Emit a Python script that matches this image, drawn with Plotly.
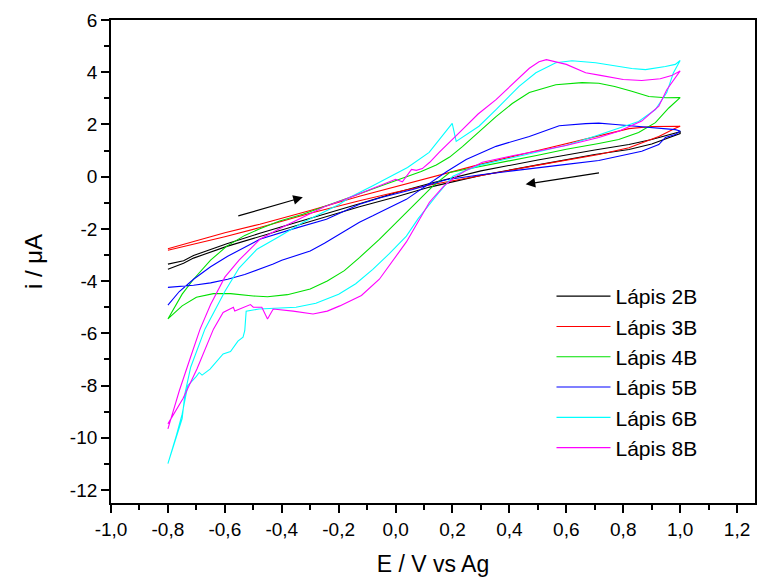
import plotly.graph_objects as go

# ---------------- data (E in V, i in uA) ----------------
series_names = ["Lápis 2B", "Lápis 3B", "Lápis 4B", "Lápis 5B", "Lápis 6B", "Lápis 8B"]
series_colors = ["#000000", "#FF0000", "#00E000", "#0000FF", "#00FFFF", "#FF00FF"]

E_2B = [-0.8, -0.745, -0.71, -0.593, -0.477, -0.36, -0.243, -0.127, 0.0, 0.12, 0.3, 0.5, 0.7, 0.82, 0.9, 1.0,
        1.0, 0.9, 0.82, 0.7, 0.5, 0.3, 0.12, 0.0, -0.127, -0.243, -0.36, -0.477, -0.593, -0.71, -0.745, -0.8]
I_2B = [-3.35, -3.22, -3.02, -2.57, -2.17, -1.8, -1.42, -1.04, -0.62, -0.26, 0.22, 0.64, 1.02, 1.23, 1.42, 1.72,
        1.65, 1.25, 1.04, 0.85, 0.45, 0.05, -0.4, -0.78, -1.15, -1.53, -1.9, -2.28, -2.67, -3.12, -3.32, -3.55]

E_3B = [-0.8, -0.6, -0.477, -0.3, -0.127, 0.0, 0.12, 0.3, 0.5, 0.714, 0.82, 0.9, 1.0,
        0.983, 0.925, 0.82, 0.714, 0.505, 0.3, 0.12, 0.0, -0.127, -0.3, -0.477, -0.6, -0.8]
I_3B = [-2.76, -2.15, -1.82, -1.3, -0.75, -0.38, -0.03, 0.48, 1.0, 1.58, 1.84, 1.92, 1.93,
        1.85, 1.54, 1.11, 0.85, 0.45, 0.05, -0.32, -0.6, -0.92, -1.4, -1.95, -2.3, -2.82]

E_4B = [-0.8, -0.75, -0.71, -0.65, -0.593, -0.53, -0.477, -0.407, -0.326, -0.25, -0.15, -0.05, 0.013, 0.09,
        0.143, 0.19, 0.235, 0.29, 0.353, 0.41, 0.47, 0.563, 0.655, 0.714, 0.77, 0.83, 0.89, 0.95, 1.0,
        0.96, 0.913, 0.854, 0.784, 0.714, 0.6, 0.5, 0.4, 0.3, 0.19, 0.13, 0.038, -0.057, -0.127, -0.18,
        -0.24, -0.3, -0.38, -0.45, -0.5, -0.58, -0.64, -0.7, -0.75, -0.8]
I_4B = [-5.45, -4.5, -3.93, -3.2, -2.66, -2.25, -2.0, -1.7, -1.44, -1.15, -0.75, -0.35, -0.1, 0.2,
        0.45, 0.75, 1.15, 1.7, 2.3, 2.8, 3.22, 3.52, 3.6, 3.58, 3.45, 3.27, 3.07, 3.02, 3.03,
        2.63, 2.07, 1.69, 1.42, 1.27, 1.05, 0.82, 0.6, 0.4, 0.16, -0.37, -1.37, -2.4, -3.1, -3.6,
        -4.0, -4.3, -4.52, -4.6, -4.57, -4.48, -4.48, -4.62, -4.95, -5.45]

E_5B = [-0.8, -0.75, -0.71, -0.65, -0.59, -0.53, -0.477, -0.43, -0.4, -0.35, -0.3, -0.25, -0.197, -0.127,
        -0.08, -0.057, 0.038, 0.12, 0.18, 0.248, 0.353, 0.47, 0.575, 0.668, 0.714, 0.773, 0.89, 0.983, 1.0,
        0.983, 0.948, 0.925, 0.865, 0.784, 0.714, 0.6, 0.5, 0.41, 0.3, 0.178, 0.06, -0.05, -0.127, -0.243,
        -0.36, -0.477, -0.59, -0.65, -0.71, -0.76, -0.8]
I_5B = [-4.24, -4.2, -4.16, -4.07, -3.93, -3.75, -3.55, -3.35, -3.2, -3.02, -2.85, -2.55, -2.2, -1.75,
        -1.5, -1.37, -0.87, -0.27, 0.2, 0.66, 1.16, 1.54, 1.95, 2.03, 2.05, 2.0, 1.88, 1.8, 1.75,
        1.61, 1.5, 1.23, 0.97, 0.78, 0.62, 0.47, 0.35, 0.22, 0.07, -0.12, -0.49, -0.8, -1.06, -1.63,
        -2.0, -2.4, -3.05, -3.45, -3.93, -4.4, -4.92]

E_6B = [-0.8, -0.77, -0.75, -0.74, -0.72, -0.67, -0.6, -0.55, -0.487, -0.407, -0.326, -0.197, -0.162,
        -0.08, 0.013, 0.042, 0.118, 0.164, 0.199, 0.213, 0.293, 0.353, 0.434, 0.493, 0.563, 0.62, 0.703,
        0.83, 0.878, 0.948, 0.983, 1.0,
        0.976, 0.953, 0.913, 0.854, 0.784, 0.7, 0.6, 0.5, 0.4, 0.3, 0.25, 0.2, 0.142, 0.08, 0.038,
        -0.022, -0.08, -0.14, -0.2, -0.28, -0.35, -0.42, -0.48, -0.525, -0.53, -0.536, -0.554, -0.58,
        -0.606, -0.652, -0.68, -0.69, -0.7, -0.73, -0.75, -0.77, -0.8]
I_6B = [-10.99, -9.9, -9.27, -8.3, -7.3, -5.84, -4.4, -3.5, -2.78, -2.28, -1.76, -1.06, -0.8,
        -0.35, 0.16, 0.35, 0.93, 1.54, 2.04, 1.35, 1.93, 2.57, 3.46, 3.98, 4.36, 4.44, 4.36,
        4.14, 4.1, 4.22, 4.3, 4.45,
        3.97, 3.22, 2.57, 2.11, 1.85, 1.55, 1.2, 0.95, 0.7, 0.45, 0.25, 0.01, -0.75, -1.6, -2.28,
        -2.95, -3.55, -4.1, -4.5, -4.85, -5.0, -5.05, -5.07, -5.15, -5.9, -6.15, -6.3, -6.7,
        -6.79, -7.37, -7.6, -7.5, -7.65, -8.0, -9.1, -9.9, -10.99]

E_8B = [-0.8, -0.76, -0.72, -0.687, -0.65, -0.6, -0.55, -0.51, -0.477, -0.4, -0.337, -0.25, -0.16, -0.08,
        0.0, 0.024, 0.056, 0.073, 0.094, 0.12, 0.153, 0.224, 0.29, 0.353, 0.42, 0.47, 0.504, 0.53, 0.6,
        0.668, 0.72, 0.8, 0.865, 0.93, 0.97, 1.0,
        0.953, 0.925, 0.865, 0.784, 0.714, 0.599, 0.5, 0.41, 0.305, 0.25, 0.213, 0.17, 0.119, 0.08, 0.038,
        -0.057, -0.12, -0.196, -0.24, -0.29, -0.36, -0.43, -0.45, -0.47, -0.5, -0.51, -0.565, -0.57,
        -0.606, -0.64, -0.698, -0.747, -0.8]
I_8B = [-9.66, -8.2, -6.9, -5.84, -4.9, -3.85, -3.2, -2.78, -2.4, -1.95, -1.62, -1.15, -0.8, -0.45,
        -0.1, -0.2, 0.28, 0.24, 0.31, 0.55, 0.93, 1.69, 2.4, 2.95, 3.65, 4.15, 4.4, 4.48, 4.3,
        3.98, 3.88, 3.72, 3.68, 3.75, 3.87, 4.05,
        3.33, 2.7, 2.13, 1.74, 1.5, 1.19, 0.98, 0.8, 0.55, 0.25, 0.01, -0.35, -0.98, -1.7, -2.5,
        -3.93, -4.55, -4.95, -5.15, -5.26, -5.15, -5.07, -5.45, -5.0, -5.0, -4.9, -5.15, -5.0,
        -5.2, -5.84, -7.37, -8.5, -9.47]

series_E = [E_2B, E_3B, E_4B, E_5B, E_6B, E_8B]
series_I = [I_2B, I_3B, I_4B, I_5B, I_6B, I_8B]

x_tickvals = [-1.0, -0.8, -0.6, -0.4, -0.2, 0.0, 0.2, 0.4, 0.6, 0.8, 1.0, 1.2]
x_ticktext = ["-1,0", "-0,8", "-0,6", "-0,4", "-0,2", "0,0", "0,2", "0,4", "0,6", "0,8", "1,0", "1,2"]
y_tickvals = [-12, -10, -8, -6, -4, -2, 0, 2, 4, 6]
y_ticktext = ["-12", "-10", "-8", "-6", "-4", "-2", "0", "2", "4", "6"]

# sweep-direction arrows (tail -> head), data coordinates
arrow_tail = [(-0.558, -1.52), (0.72, 0.15)]
arrow_head = [(-0.326, -0.79), (0.457, -0.29)]

FONT = "Arial, Liberation Sans, sans-serif"

fig = go.Figure()
for name, col, ex, iy in zip(series_names, series_colors, series_E, series_I):
    fig.add_trace(go.Scatter(x=ex, y=iy, mode="lines", name=name,
                             line=dict(color=col, width=1.1)))

for (tx, ty), (hx, hy) in zip(arrow_tail, arrow_head):
    fig.add_annotation(x=hx, y=hy, ax=tx, ay=ty, xref="x", yref="y", axref="x", ayref="y",
                       showarrow=True, arrowhead=2, arrowsize=1.6, arrowwidth=1.2,
                       arrowcolor="black", text="")

axis_common = dict(showgrid=False, zeroline=False, showline=True, linecolor="black", linewidth=1.8,
                   mirror=True, ticks="outside", ticklen=8, tickwidth=1.5, tickcolor="black",
                   tickfont=dict(family=FONT, size=19, color="black"))

fig.update_layout(
    width=757, height=577,
    margin=dict(l=111, r=0, t=20, b=74),
    paper_bgcolor="white", plot_bgcolor="white",
    showlegend=True,
    legend=dict(x=0.684, y=0.47, xanchor="left", yanchor="top",
                font=dict(family=FONT, size=21, color="black"),
                bgcolor="rgba(0,0,0,0)", borderwidth=0, tracegroupgap=0, itemwidth=54),
    xaxis=dict(range=[-1.0, 1.263], tickmode="array", tickvals=x_tickvals, ticktext=x_ticktext,
               minor=dict(ticks="outside", ticklen=5, tickwidth=1.5, tickcolor="black", dtick=0.1, tick0=-1.0),
               title=dict(text="E / V vs Ag", font=dict(family=FONT, size=23, color="black"), standoff=18),
               **axis_common),
    yaxis=dict(range=[-12.5, 6.0], tickmode="array", tickvals=y_tickvals, ticktext=y_ticktext,
               minor=dict(ticks="outside", ticklen=5, tickwidth=1.5, tickcolor="black", dtick=1, tick0=0),
               title=dict(text="i / μA", font=dict(family=FONT, size=24, color="black"), standoff=20),
               **axis_common),
)

fig.write_html("out.html")
